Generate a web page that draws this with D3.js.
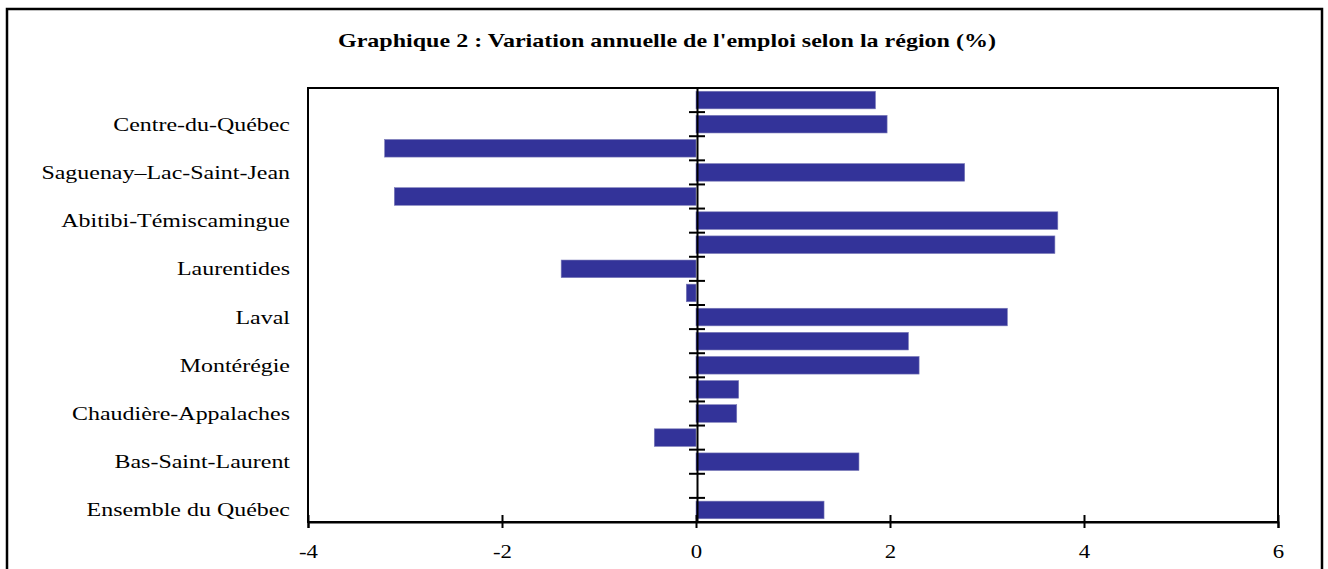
<!DOCTYPE html>
<html>
<head>
<meta charset="utf-8">
<script src="https://cdn.jsdelivr.net/npm/d3@7"></script>
<style>
  body { margin: 0; background: #fff; }
  svg { display: block; }
  text { font-family: "Liberation Serif", "Times New Roman", serif; fill: #000; }
</style>
</head>
<body>
<svg id="chart"></svg>
<script>
// categories from bottom to top; only every other one carries a label
const labels = [
  "Ensemble du Québec", "", "Bas-Saint-Laurent", "", "Chaudière-Appalaches", "",
  "Montérégie", "", "Laval", "", "Laurentides", "",
  "Abitibi-Témiscamingue", "", "Saguenay–Lac-Saint-Jean", "", "Centre-du-Québec", ""
];
const values = [
  1.32, null, 1.68, -0.43, 0.42, 0.44,
  2.30, 2.19, 3.21, -0.10, -1.39, 3.70,
  3.73, -3.11, 2.77, -3.21, 1.97, 1.85
];
const xTicks = [-4, -2, 0, 2, 4, 6];

const W = 1328, H = 569;
const margin = { top: 88, right: 50, bottom: 47, left: 308 };
const width = W - margin.left - margin.right;
const height = H - margin.top - margin.bottom;

const svg = d3.select("#chart").attr("width", W).attr("height", H);

// outer frame
svg.append("rect")
  .attr("x", 7).attr("y", 9)
  .attr("width", 1315).attr("height", 600)
  .attr("fill", "none")
  .attr("stroke", "#000")
  .attr("stroke-width", 2.5);

// title
svg.append("text")
  .attr("x", 667)
  .attr("y", 47)
  .attr("text-anchor", "middle")
  .attr("textLength", 658)
  .attr("lengthAdjust", "spacingAndGlyphs")
  .style("font-size", "19px")
  .style("font-weight", "bold")
  .text("Graphique 2 : Variation annuelle de l'emploi selon la région (%)");

const g = svg.append("g")
  .attr("transform", `translate(${margin.left},${margin.top})`);

const x = d3.scaleLinear().domain([-4, 6]).range([0, width]);
const idx = d3.range(labels.length);
const y = d3.scaleBand().domain(idx).range([height, 0]).padding(0);

// plot border
g.append("rect")
  .attr("width", width).attr("height", height)
  .attr("fill", "none")
  .attr("stroke", "#000")
  .attr("stroke-width", 2);

// bars
const barH = y.bandwidth() * 0.73;
g.selectAll(".bar")
  .data(idx.filter(i => values[i] !== null))
  .enter()
  .append("rect")
  .attr("class", "bar")
  .attr("x", i => x(Math.min(0, values[i])))
  .attr("y", i => y(i) + (y.bandwidth() - barH) / 2)
  .attr("width", i => Math.abs(x(values[i]) - x(0)))
  .attr("height", barH)
  .attr("fill", "#333399")
  .attr("stroke", "#7a7ab8")
  .attr("stroke-width", 0.6);

// x axis
const xAxis = g.append("g")
  .attr("transform", `translate(0,${height})`)
  .call(d3.axisBottom(x).tickValues(xTicks).tickSize(6).tickPadding(17).tickFormat(d => String(d)));
xAxis.select(".domain").attr("stroke-width", 2);
xAxis.selectAll(".tick line").attr("y1", -7).attr("stroke-width", 2);
xAxis.selectAll(".tick text")
  .style("font-size", "19px")
  .attr("transform", "scale(1.2,1)");

// category axis on the zero line
const yAxis = g.append("g")
  .attr("transform", `translate(${x(0) + 1},0)`)
  .call(d3.axisLeft(y).tickSize(0).tickFormat(""));
yAxis.select(".domain").attr("stroke-width", 2);
yAxis.selectAll(".tick").remove();

const bounds = d3.range(1, labels.length);
yAxis.selectAll(".cat-tick")
  .data(bounds)
  .enter()
  .append("line")
  .attr("class", "cat-tick")
  .attr("x1", -8).attr("x2", 8)
  .attr("y1", i => y(i) + y.bandwidth())
  .attr("y2", i => y(i) + y.bandwidth())
  .attr("stroke", "#000")
  .attr("stroke-width", 2);

// category labels
g.selectAll(".cat-label")
  .data(idx.filter(i => labels[i] !== ""))
  .enter()
  .append("text")
  .attr("class", "cat-label")
  .attr("text-anchor", "end")
  .attr("transform", i => `translate(-18,${y(i) + y.bandwidth() / 2 + 6.5}) scale(1.26,1)`)
  .style("font-size", "19px")
  .text(i => labels[i]);
</script>
</body>
</html>
